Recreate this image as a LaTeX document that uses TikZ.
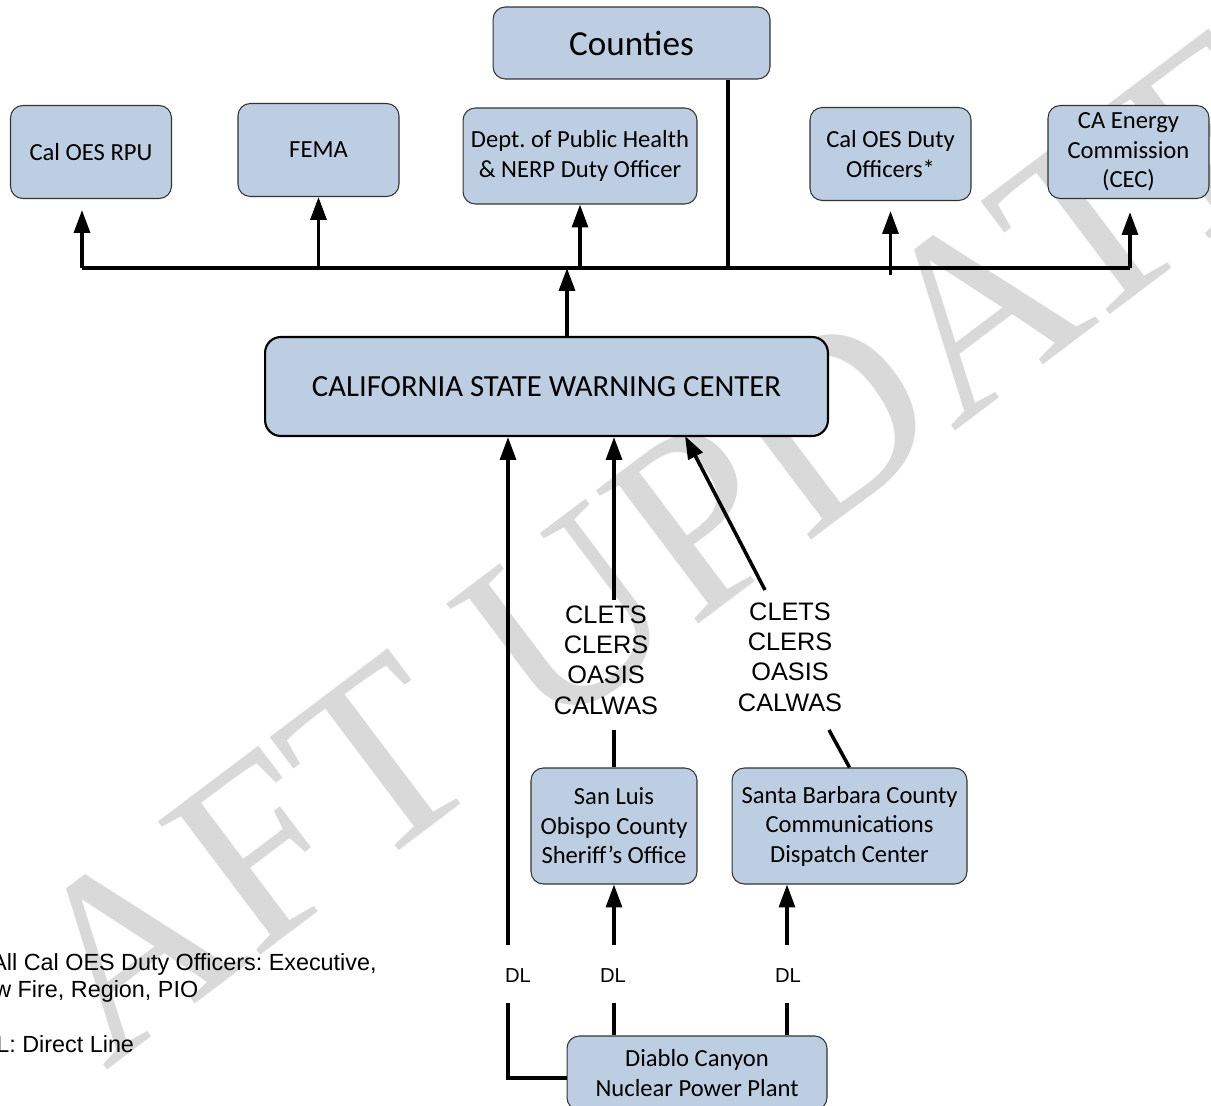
\documentclass[tikz,border=0pt]{standalone}
\usepackage{fontspec}
\setmainfont{Carlito}
\newfontfamily\arialfont{Liberation Sans}
\newfontfamily\timesfont{Liberation Serif}
\usetikzlibrary{arrows.meta}
\definecolor{boxblue}{RGB}{190,206,226}
\frenchspacing

\begin{document}
\begin{tikzpicture}[
    x=0.02cm, y=-0.02cm,
    agency/.style={
        rectangle, draw=black!80, fill=boxblue, line width=0.6pt,
        rounded corners=7pt, align=center, inner sep=2pt,
        font=\fontsize{14}{16.8}\selectfont
    },
    agencybox/.style={
        agency, minimum width=3.22cm, minimum height=1.86cm
    },
    centerbox/.style={
        agency, draw=black, line width=1.2pt, rounded corners=9pt,
        minimum width=11.26cm, minimum height=1.98cm,
        font=\fontsize{17.5}{21}\selectfont
    },
    sysnet/.style={
        align=center, inner sep=3pt,
        font=\arialfont\fontsize{14.4}{17.3}\selectfont
    },
    dl/.style={inner sep=0pt, font=\arialfont\fontsize{11.5}{13}\selectfont},
    footnote/.style={
        anchor=base west, inner sep=0pt,
        font=\arialfont\fontsize{13.3}{15.6}\selectfont
    },
    watermark/.style={text=black!15, font=\timesfont\fontsize{146}{146}\selectfont},
    wire/.style={line width=2pt},
    arrow/.style={wire, -{Triangle[width=9pt,length=13pt]}}
]

\useasboundingbox (0,0) rectangle (1211,1106);
\clip (0,0) rectangle (1211,1106);

% Filigrana
\node[watermark, rotate=37] (wm) at (667,544) {AFT UPDATE};

% Contee
\node[agency, minimum width=5.54cm, minimum height=1.44cm,
      font=\fontsize{20}{24}\selectfont] (counties) at (631.5,43) {Counties};

% Enti destinatari
\node[agencybox] (rpu) at (91,152) {Cal OES RPU};
\node[agencybox] (fema) at (318.5,150) {FEMA};
\node[agencybox, minimum width=4.68cm, minimum height=1.92cm] (dph) at (580,156)
    {Dept. of Public Health\\\& NERP Duty Officer};
\node[agencybox] (duty) at (890.5,154) {Cal OES Duty\\Officers*};
\node[agencybox] (cec) at (1128.5,152) {CA Energy\\Commission\\(CEC)};

% Centro di allerta
\node[centerbox] (cswc) at (546.5,386.5) {CALIFORNIA STATE WARNING CENTER};

% Uffici di contea
\node[agency, minimum width=3.32cm, minimum height=2.32cm] (slo) at (614,826)
    {San Luis\\Obispo County\\Sheriff’s Office};
\node[agency, minimum width=4.7cm, minimum height=2.32cm] (sbc) at (849.5,826)
    {Santa Barbara County\\Communications\\Dispatch Center};

% Centrale
\node[agency, minimum width=5.2cm, minimum height=1.48cm] (dcpp) at (697,1073)
    {Diablo Canyon\\Nuclear Power Plant};

% Sistemi di comunicazione
\node[sysnet] (net1) at (606,660) {CLETS\\CLERS\\OASIS\\CALWAS};
\node[sysnet] (net2) at (790,657) {CLETS\\CLERS\\OASIS\\CALWAS};

% Linee dirette
\node[dl] (dl1) at (518,976) {DL};
\node[dl] (dl2) at (613,976) {DL};
\node[dl] (dl3) at (788,976) {DL};

% Bus di distribuzione
\coordinate (busL) at (82,268);
\coordinate (busR) at (1130,268);
\coordinate (ctyjoin) at (728,268);
\coordinate (cswcup) at (567,268);
\draw[wire] (busL) -- (busR);
\draw[wire] (ctyjoin) -- (ctyjoin |- counties.south);
\draw[arrow, shorten >=0.22cm] (busL) -- (busL |- rpu.south);
\draw[arrow] (fema.south |- busL) -- (fema.south);
\draw[arrow] (dph.south |- busL) -- (dph.south);
\draw[arrow, shorten <=-0.14cm, shorten >=0.2cm] (duty.south |- busL) -- (duty.south);
\draw[arrow, shorten >=0.26cm] (busR) -- (busR |- cec.south);
\draw[arrow] (cswcup |- cswc.north) -- (cswcup);

% Collegamenti verso il centro
\coordinate (dlL) at (508,976);
\coordinate (dlM) at (614,976);
\coordinate (dlR) at (787,976);
\coordinate (sbtip) at (685,436);
\coordinate (net2a) at (765,590);
\coordinate (net2b) at (829,730);

\draw[arrow, shorten <=0.62cm] (dlL) -- (dlL |- cswc.south);
\draw[wire, shorten <=0.54cm] (dlL) |- ([yshift=-0.1cm]dcpp.west);
\draw[arrow, shorten <=0.62cm] (dlM) -- (slo.south);
\draw[wire, shorten <=0.54cm] (dlM) -- (dlM |- dcpp.north);
\draw[arrow, shorten <=0.62cm] (dlR) -- (dlR |- sbc.south);
\draw[wire, shorten <=0.54cm] (dlR) -- (dlR |- dcpp.north);

\draw[wire, shorten >=0.2cm] (slo.north) -- (slo.north |- net1.south);
\draw[arrow] (slo.north |- net1.north) -- (slo.north |- cswc.south);
\draw[wire] (sbc.north) -- (net2b);
\draw[arrow] (net2a) -- (sbtip);

% Note
\node[footnote] (note1) at (-9,970) {All Cal OES Duty Officers: Executive,};
\node[footnote] (note2) at (-6,997) {w Fire, Region, PIO};
\node[footnote] (note3) at (-4,1052) {L: Direct Line};

\end{tikzpicture}
\end{document}
